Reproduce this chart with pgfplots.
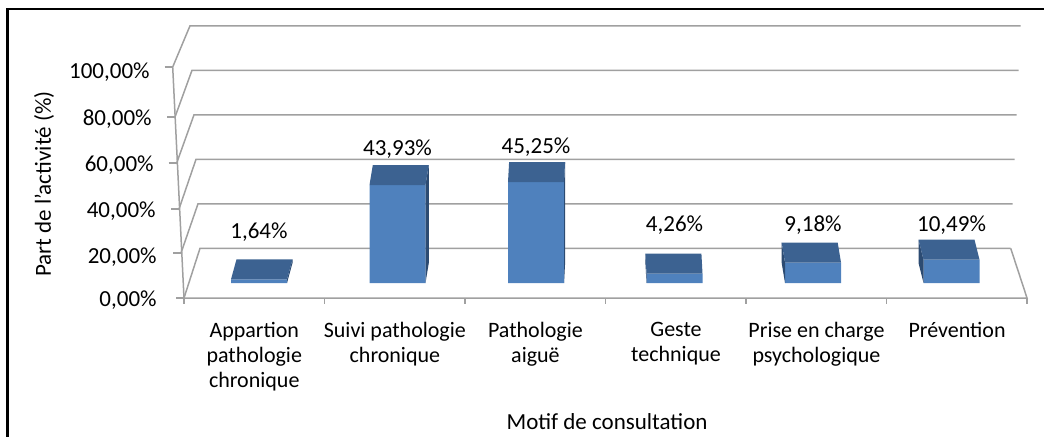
\documentclass[border=0pt]{standalone}
\usepackage{pgfplots}
\pgfplotsset{compat=1.18}
\usepackage{pgfplotstable}
\usepackage{fontspec}
\setmainfont{Carlito}
\definecolor{barfront}{HTML}{4F81BD}
\definecolor{barcap}{HTML}{3C6291}
\definecolor{barside}{HTML}{2C4B72}
\definecolor{gridgray}{HTML}{A0A0A0}

% i = category, v = value (%), s = depth shift of the top (px), lo = label offset (pt)
\pgfplotstableread{
i v s lo
0 1.64 5.5 20.65
1 43.93 3.3 15.0
2 45.25 1.1 14.25
3 4.26 -1.1 20.9
4 9.18 -3.3 15.4
5 10.49 -5.0 13.95
}\data

\pgfdeclareplotmark{cap3d}{%
  \pgfmathsetmacro\hh{\capval*1.1155}%
  \pgfmathsetmacro\ss{\capsh*0.5}%
  \pgfmathsetmacro\xe{\capsh>0 ? 14 : -14}%
  \pgfmathsetmacro\xes{\xe+(\ss)}%
  \pgfmathsetmacro\xa{\ss-14}%
  \pgfmathsetmacro\xb{\ss+14}%
  \pgfmathsetmacro\yb{10-\hh}%
  \pgfpathmoveto{\pgfpoint{\xe pt}{-\hh pt}}%
  \pgfpathlineto{\pgfpoint{\xe pt}{0pt}}%
  \pgfpathlineto{\pgfpoint{\xes pt}{10pt}}%
  \pgfpathlineto{\pgfpoint{\xes pt}{\yb pt}}%
  \pgfpathclose
  \pgfsetfillcolor{barside}\pgfusepath{fill}%
  \pgfpathmoveto{\pgfpoint{-14pt}{0pt}}%
  \pgfpathlineto{\pgfpoint{14pt}{0pt}}%
  \pgfpathlineto{\pgfpoint{\xb pt}{10pt}}%
  \pgfpathlineto{\pgfpoint{\xa pt}{10pt}}%
  \pgfpathclose
  \pgfsetfillcolor{barcap}\pgfusepath{fill}%
}

\begin{document}
\begin{tikzpicture}
% 3D frame (walls, floor), in pixel units of the reference
\begin{scope}[x=0.5pt,y=-0.5pt]
\foreach \k/\fx/\fy in {0/184/298,1/181/253,2/179/209,3/176.7/163,4/175/117,5/172.7/67}{
  \pgfmathsetmacro\by{248.3-44.5*\k}
  \pgfmathsetmacro\bxl{200-2*\k}
  \pgfmathsetmacro\bxr{1010.7+2*\k}
  \draw[gridgray, line width=0.75pt] (\fx,\fy) -- (\bxl,\by) -- (\bxr,\by);
  \draw[gridgray, line width=0.75pt] (\fx-8,\fy) -- (\fx,\fy);
}
\draw[gridgray, line width=0.75pt] (172.7,67) -- (184,298) -- (1027,298) -- (1010.7,248.3);
\foreach \i in {0,...,6}{
  \draw[gridgray, line width=0.75pt] ({184+140.5*\i},298) -- ({184+140.5*\i},304);
}
\end{scope}
\begin{axis}[
  x=69.25pt, y=1.1155pt,
  anchor=origin, at={(129.5pt,-141.5pt)},
  xmin=-0.541516, xmax=5.5451, ymin=-12, ymax=115.64,
  clip=false,
  axis line style={draw=none},
  major tick length=0pt,
  tick style={draw=none},
  xtick={-0.034,0.981,1.996,3.011,4.025,5.040},
  xticklabels={{Appartion\\pathologie\\chronique},{Suivi pathologie\\chronique},{Pathologie\\aiguë},{Geste\\technique},{Prise en charge\\psychologique},{Prévention}},
  xticklabel style={align=center, anchor=north, inner sep=0pt, yshift=-6pt, font=\fontsize{11}{12.6}\selectfont},
  ytick={-10.62,8.96,29.58,49.89,70.82,91.75},
  yticklabels={{0,00\%},{20,00\%},{40,00\%\kern0.5pt},{60,00\%\kern1.5pt},{80,00\%\kern2.5pt},{100,00\%\kern3.5pt}},
  yticklabel style={anchor=base east, inner sep=0pt, xshift=-13.5pt, font=\fontsize{11.5}{13}\selectfont},
  xlabel={Motif de consultation},
  ylabel={Part de l'activité (\%)},
  every axis x label/.style={at={(axis cs:2.513,-65.44)}, anchor=base, font=\fontsize{11.5}{13}\selectfont},
  every axis y label/.style={at={(axis cs:-1.552,44.37)}, rotate=90, anchor=center, font=\fontsize{11.5}{13}\selectfont},
  /pgf/number format/assume math mode=true,
]
\addplot[ybar, bar width=28pt, bar shift=0pt, fill=barfront, draw=none, point meta=y,
  visualization depends on={\thisrow{lo} \as \lblo},
  nodes near coords={\pgfmathprintnumber[fixed,fixed zerofill,precision=2,use comma]{\pgfplotspointmeta}\%},
  every node near coord/.style={anchor=base, inner sep=0pt, yshift=\lblo pt, font=\fontsize{11.5}{13}\selectfont, text=black}
] table[x=i,y=v] {\data};
\addplot[only marks, mark=cap3d,
  visualization depends on={\thisrow{s} \as \capsh},
  visualization depends on={\thisrow{v} \as \capval}
] table[x=i,y=v] {\data};
\end{axis}
\draw[black, line width=1.25pt] (3.65pt,-300pt) -- (3.65pt,-4.6pt) -- (600pt,-4.6pt);
\pgfresetboundingbox
\path[use as bounding box] (0,0) rectangle (522pt,-218pt);
\end{tikzpicture}
\end{document}
